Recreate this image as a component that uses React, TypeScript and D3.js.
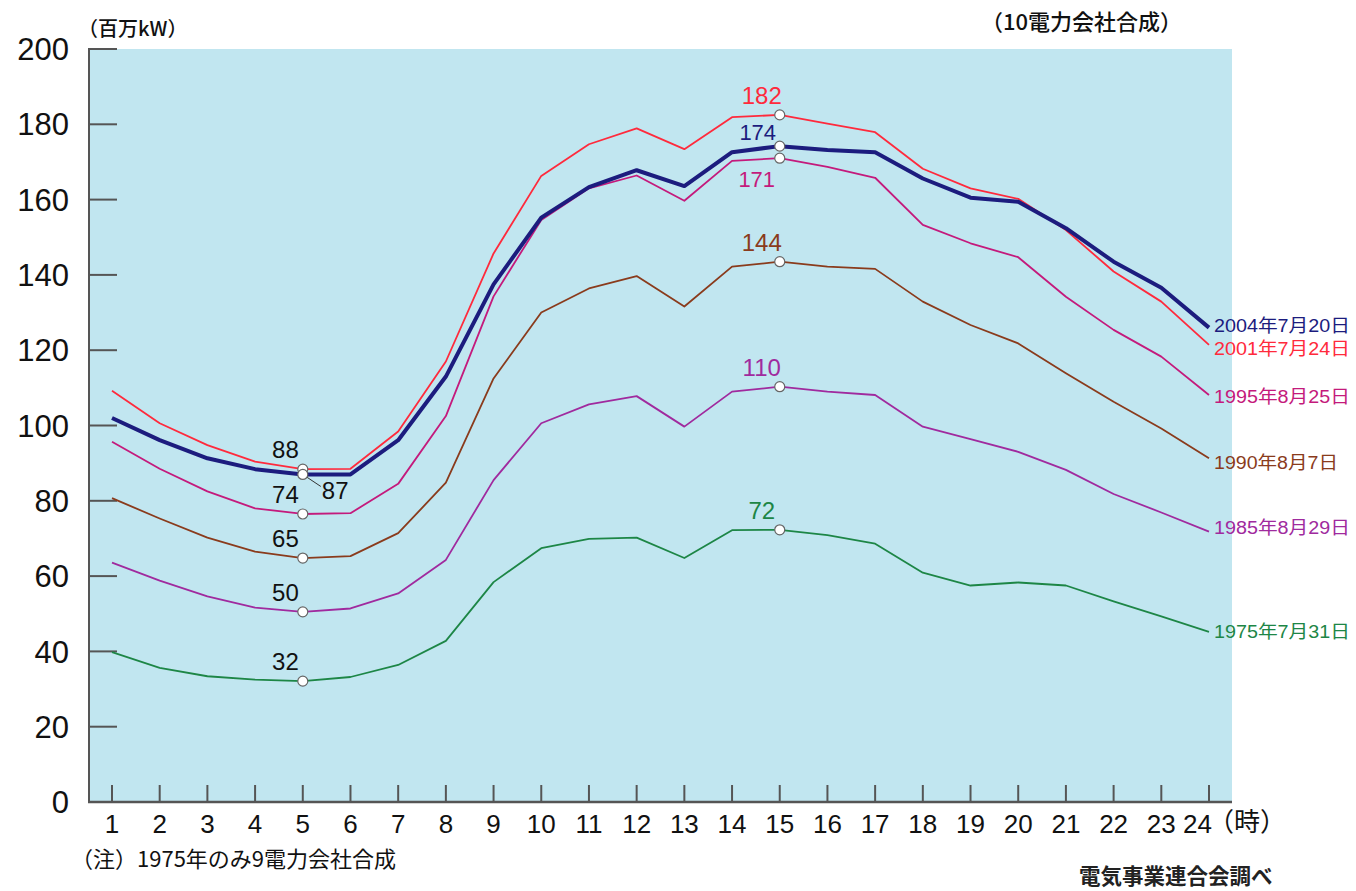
import React from "react";
import * as d3 from "d3";

// hours on the x axis
const hours = [1, 2, 3, 4, 5, 6, 7, 8, 9, 10, 11, 12, 13, 14, 15, 16, 17, 18, 19, 20, 21, 22, 23, 24];
const yTicks = [0, 20, 40, 60, 80, 100, 120, 140, 160, 180, 200];

// 最大電力発生日の時間別電力 (百万kW)
const load2004 = [102, 96.1, 91.3, 88.4, 87, 87, 96.1, 113, 137.5, 155.2, 163.3, 167.8, 163.6, 172.6, 174.2, 173.2, 172.6, 165.6, 160.5, 159.4, 152.4, 143.5, 136.6, 126];
const load2001 = [109.2, 100.6, 94.8, 90.4, 88.4, 88.5, 98.4, 117, 145.7, 166.3, 174.7, 178.9, 173.4, 181.9, 182.5, 180.2, 177.9, 168.2, 163, 160.2, 151.9, 140.9, 132.9, 121.4];
const load1995 = [95.7, 88.5, 82.5, 78, 76.5, 76.7, 84.5, 102.5, 134.3, 154.6, 163, 166.4, 159.7, 170.3, 171, 168.7, 165.8, 153.3, 148.4, 144.7, 134.2, 125.4, 118.3, 108.1];
const load1990 = [80.7, 75.3, 70.2, 66.5, 64.8, 65.3, 71.4, 84.8, 112.5, 130, 136.4, 139.7, 131.6, 142.2, 143.5, 142.2, 141.6, 132.9, 126.7, 121.8, 113.9, 106.3, 99.2, 91.3];
const load1985 = [63.6, 58.8, 54.6, 51.6, 50.5, 51.4, 55.4, 64.3, 85.5, 100.6, 105.6, 107.8, 99.7, 109, 110.3, 109, 108.1, 99.7, 96.4, 93, 88.2, 81.8, 76.9, 71.8];
const load1975 = [39.8, 35.6, 33.4, 32.5, 32.1, 33.2, 36.4, 42.8, 58.4, 67.4, 69.9, 70.2, 64.8, 72.2, 72.3, 70.9, 68.6, 60.9, 57.5, 58.3, 57.5, 53.3, 49.3, 45.2];

const series = [
  { name: "1975年7月31日", values: load1975, color: "#1d8646", width: 1.8, dy: 0 },
  { name: "1985年8月29日", values: load1985, color: "#a02a9e", width: 1.8, dy: -4 },
  { name: "1990年8月7日", values: load1990, color: "#8a3b1c", width: 1.8, dy: 4 },
  { name: "1995年8月25日", values: load1995, color: "#c41a7c", width: 1.8, dy: 2 },
  { name: "2001年7月24日", values: load2001, color: "#ff2a3c", width: 1.8, dy: 4 },
  { name: "2004年7月20日", values: load2004, color: "#1c1c7e", width: 4, dy: -2 },
];

// 注記: [系列, 時, 表示値, 位置]
const notes: [number, number, string, string][] = [
  [4, 5, "88", "left"],
  [5, 5, "87", "leader"],
  [3, 5, "74", "left"],
  [2, 5, "65", "left"],
  [1, 5, "50", "left"],
  [0, 5, "32", "left"],
  [4, 15, "182", "top"],
  [5, 15, "174", "topNear"],
  [3, 15, "171", "below"],
  [2, 15, "144", "top"],
  [1, 15, "110", "top"],
  [0, 15, "72", "top"],
];

const W = 1356;
const H = 891;
const plot = { left: 89, right: 1232, top: 49, bottom: 802 };

const x = d3.scaleLinear().domain([1, 24]).range([112, 1209]);
const y = d3.scaleLinear().domain([0, 200]).range([plot.bottom, plot.top]);

const num = "'Liberation Sans', Arial, 'Noto Sans CJK JP', sans-serif";
const jp = "'Noto Sans CJK JP', 'Liberation Sans', sans-serif";

export default function App() {
  const line = d3
    .line<number>()
    .x((_, i) => x(hours[i]))
    .y((d) => y(d))
    .curve(d3.curveLinear);

  return (
    <svg
      width={W}
      height={H}
      style={{ position: "absolute", left: 0, top: 0, background: "#fff" }}
    >
      <rect
        x={plot.left}
        y={plot.top}
        width={plot.right - plot.left}
        height={plot.bottom - plot.top}
        fill="#c1e6f0"
      />

      {/* axes */}
      <g stroke="#555" strokeWidth={2}>
        <line x1={plot.left} x2={plot.left} y1={plot.top - 1} y2={plot.bottom} />
        <line x1={plot.left - 1} x2={plot.right} y1={plot.bottom} y2={plot.bottom} strokeWidth={2.5} />
        {yTicks.map((t) => (
          <line key={t} x1={plot.left} x2={plot.left + 28} y1={y(t)} y2={y(t)} />
        ))}
        {hours.map((h) => (
          <line key={h} x1={x(h)} x2={x(h)} y1={plot.bottom - 17} y2={plot.bottom} />
        ))}
      </g>

      <g fontFamily={num} fontSize={31} fill="#111" textAnchor="end">
        {yTicks.map((t) => (
          <text key={t} x={69} y={y(t)} dy="0.36em">
            {t}
          </text>
        ))}
      </g>
      <g fontFamily={num} fontSize={26} fill="#111">
        {hours.map((h) => (
          <text
            key={h}
            x={h === 24 ? x(h) + 3 : x(h)}
            y={833}
            textAnchor={h === 24 ? "end" : "middle"}
          >
            {h}
          </text>
        ))}
      </g>
      <text x={1208} y={831} fontFamily={jp} fontSize={26} fill="#111">
        （時）
      </text>

      <text x={78} y={36} fontFamily={jp} fontSize={20} fontWeight={500} fill="#111">
        （百万kW）
      </text>
      <text x={981} y={30} fontFamily={jp} fontSize={22} fontWeight={500} fill="#111">
        （10電力会社合成）
      </text>
      <text x={71} y={867} fontFamily={jp} fontSize={22} fill="#111">
        （注）1975年のみ9電力会社合成
      </text>
      <text x={1079} y={884} fontFamily={jp} fontSize={21.5} fontWeight={700} fill="#222">
        電気事業連合会調べ
      </text>

      {/* load curves */}
      {series.map((s) => (
        <path
          key={s.name}
          d={line(s.values) ?? ""}
          fill="none"
          stroke={s.color}
          strokeWidth={s.width}
          strokeLinejoin="round"
        />
      ))}

      {/* end labels */}
      <g fontFamily={num} fontSize={18}>
        {series.map((s) => (
          <text
            key={s.name}
            x={1214}
            y={y(s.values[23]) + s.dy}
            dy="0.36em"
            fill={s.color}
            textLength={s.name.length === 10 ? 136 : 124}
            lengthAdjust="spacingAndGlyphs"
          >
            {s.name}
          </text>
        ))}
      </g>

      {/* peak / trough markers */}
      {notes.map(([si, h, label, pos]) => {
        const s = series[si];
        const cx = x(h);
        const cy = y(s.values[h - 1]);
        const black = h === 5;
        const fill = black ? "#111" : s.color;
        let tx = cx - 4;
        let ty = cy - 11;
        let anchor = "end";
        if (pos === "leader") {
          tx = cx + 19;
          ty = cy + 25;
          anchor = "start";
        } else if (pos === "top") {
          tx = cx - 18;
          ty = cy - 11;
          anchor = "middle";
        } else if (pos === "topNear") {
          tx = cx - 22;
          ty = cy - 6;
          anchor = "middle";
        } else if (pos === "below") {
          tx = cx - 23;
          ty = cy + 29;
          anchor = "middle";
        }
        return (
          <g key={si + "-" + h}>
            {pos === "leader" && (
              <line x1={cx} y1={cy} x2={cx + 18} y2={cy + 12} stroke="#333" strokeWidth={1} />
            )}
            <circle cx={cx} cy={cy} r={5} fill="#fff" stroke="#666" strokeWidth={1.2} />
            <text
              x={tx}
              y={ty}
              textAnchor={anchor}
              fontFamily={num}
              fontSize={pos === "topNear" || pos === "below" ? 22 : 24}
              fill={fill}
            >
              {label}
            </text>
          </g>
        );
      })}
    </svg>
  );
}
